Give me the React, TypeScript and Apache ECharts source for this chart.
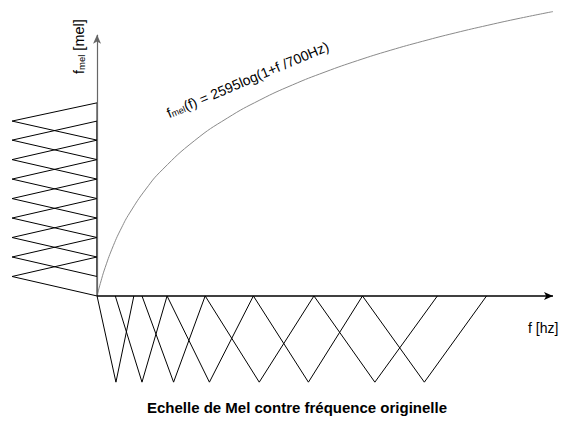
import React, { useEffect, useRef } from "react";
import * as echarts from "echarts";

// Mel curve: frequency (Hz) and mel value
const curveHz = [0, 100, 250, 500, 750, 1000, 1500, 2000, 3000, 4000, 5000, 6000, 7000, 8000, 9000, 10000, 11000, 12000, 13000, 14000];
const curveMel = [0, 150, 344, 607, 821, 1000, 1290, 1521, 1876, 2146, 2364, 2546, 2702, 2840, 2963, 3073, 3174, 3266, 3352, 3431];

// Triangular filters on the frequency axis (Hz)
const hzFilterLeft = [0, 560, 1380, 2150, 3320, 4800, 6660, 8150];
const hzFilterCenter = [580, 1380, 2350, 3450, 4980, 6490, 8530, 10050];
const hzFilterRight = [1130, 2150, 3320, 4800, 6660, 8150, 10450, 11960];
const hzFilterDepth = -1040;

// Triangular filters on the mel axis (mel), equally spaced
const melFilterEdges = [0, 235, 470, 705, 940, 1175, 1410, 1645, 1880, 2110, 2330];
const melFilterDepth = -2610;

// Axis extents
const xAxisEnd = 14000;
const yAxisEnd = 3150;

const FONT = "'Liberation Sans', Arial, Helvetica, sans-serif";

export default function App() {
  const ref = useRef<HTMLDivElement>(null);
  useEffect(() => {
    if (!ref.current) return;
    const chart = echarts.init(ref.current, null, { renderer: "svg" });

    const series: any[] = [];
    series.push({
      type: "line",
      data: curveHz.map((f, i) => [f, curveMel[i]]),
      smooth: true,
      showSymbol: false,
      clip: false,
      lineStyle: { color: "#8a8a8a", width: 1 },
      z: 2,
    });
    series.push({
      type: "line",
      data: [],
      markLine: {
        silent: true,
        symbol: ["none", "arrow"],
        symbolSize: [6, 9],
        label: { show: false },
        data: [
          [
            { coord: [0, 0], lineStyle: { color: "#666", width: 1.2, type: "solid" } },
            { coord: [0, yAxisEnd] },
          ],
          [
            { coord: [0, 0], lineStyle: { color: "#000", width: 1.5, type: "solid" } },
            { coord: [xAxisEnd, 0] },
          ],
        ],
      },
      z: 1,
    });
    hzFilterCenter.forEach((c, i) => {
      series.push({
        type: "line",
        data: [
          [hzFilterLeft[i], 0],
          [c, hzFilterDepth],
          [hzFilterRight[i], 0],
        ],
        showSymbol: false,
        clip: false,
        lineStyle: { color: "#000", width: 1 },
        z: 3,
      });
    });
    for (let k = 0; k + 2 < melFilterEdges.length; k++) {
      series.push({
        type: "line",
        data: [
          [0, melFilterEdges[k]],
          [melFilterDepth, melFilterEdges[k + 1]],
          [0, melFilterEdges[k + 2]],
          [0, melFilterEdges[k]],
        ],
        showSymbol: false,
        clip: false,
        lineStyle: { color: "#000", width: 1 },
        z: 3,
      });
    }

    chart.setOption({
      animation: false,
      backgroundColor: "#fff",
      grid: { left: 0, right: 9, top: 10, bottom: 44 },
      xAxis: { type: "value", min: -2980, max: 14000, show: false },
      yAxis: { type: "value", min: -1050, max: 3450, show: false },
      series,
      graphic: [
        {
          type: "text",
          x: 170,
          y: 120,
          rotation: 0.4,
          style: {
            text: "{a|f}{s|mel}{a|(f) = 2595log(1+f /700Hz)}",
            align: "left",
            verticalAlign: "bottom",
            rich: {
              a: { fontSize: 14, fontFamily: FONT, fill: "#000" },
              s: { fontSize: 9, fontFamily: FONT, fill: "#000", verticalAlign: "bottom", padding: [5, 0, 0, 0] },
            },
          },
        },
        {
          type: "text",
          x: 86,
          y: 74,
          rotation: Math.PI / 2,
          style: {
            text: "{a|f}{s|mel}{a| [mel]}",
            align: "left",
            verticalAlign: "bottom",
            rich: {
              a: { fontSize: 14.5, fontFamily: FONT, fill: "#000" },
              s: { fontSize: 9.5, fontFamily: FONT, fill: "#000", verticalAlign: "bottom", padding: [5, 0, 0, 0] },
            },
          },
        },
        {
          type: "text",
          x: 528,
          y: 328,
          style: {
            text: "f [hz]",
            fontSize: 14,
            fontFamily: FONT,
            fill: "#000",
            align: "left",
            verticalAlign: "middle",
          },
        },
        {
          type: "text",
          x: 297,
          y: 407,
          style: {
            text: "Echelle de Mel contre fréquence originelle",
            fontSize: 15,
            fontWeight: "bold",
            fontFamily: FONT,
            fill: "#000",
            align: "center",
            verticalAlign: "middle",
          },
        },
      ],
    });
    return () => chart.dispose();
  }, []);
  return (
    <div
      ref={ref}
      style={{ position: "fixed", left: 0, top: 0, width: 562, height: 427 }}
    />
  );
}
